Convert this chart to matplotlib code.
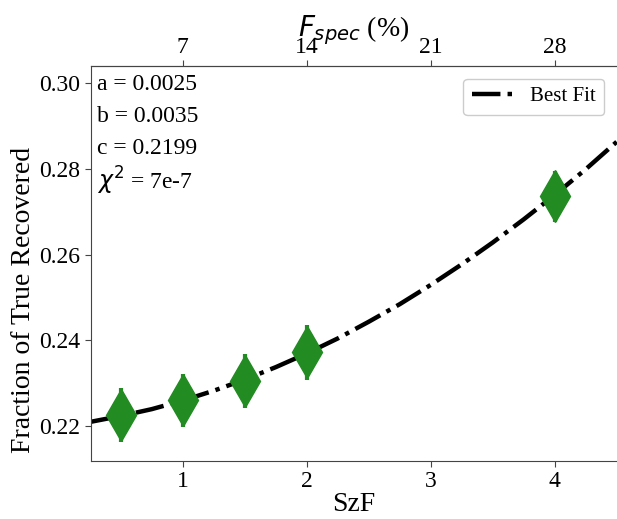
import matplotlib
matplotlib.use('Agg')
import matplotlib.pyplot as plt

# Serif text, DejaVu Sans for math
plt.rcParams['font.family'] = 'serif'
plt.rcParams['font.serif'] = ['Liberation Serif', 'DejaVu Serif']
plt.rcParams['mathtext.fontset'] = 'dejavusans'

# Measured points
szf = [0.5, 1.0, 1.5, 2.0, 4.0]
frac_true = [0.2225, 0.2260, 0.2305, 0.2372, 0.2736]
frac_err = [0.0063, 0.0062, 0.0063, 0.0064, 0.0060]

# Best-fit curve
fit_x = [0.25, 0.5, 0.75, 1.0, 1.25, 1.5, 1.75, 2.0, 2.25, 2.5, 2.75,
         3.0, 3.25, 3.5, 3.75, 4.0, 4.25, 4.5]
fit_y = [0.2209, 0.2223, 0.2239, 0.2259, 0.2282, 0.2308, 0.2337, 0.2369,
         0.2404, 0.2443, 0.2484, 0.2529, 0.2577, 0.2628, 0.2682, 0.2739,
         0.2799, 0.2863]

fit_text = ['a = 0.0025', 'b = 0.0035', 'c = 0.2199', r'$\chi^2$ = 7e-7']

fig = plt.figure(figsize=(6.17, 5.19), dpi=100)
ax = fig.add_axes([0.1475, 0.1118, 0.852, 0.761])

ax.plot(fit_x, fit_y, color='black', linestyle='-.', linewidth=3.2, label='Best Fit', zorder=2)
ax.errorbar(szf, frac_true, yerr=frac_err, fmt='d', color='forestgreen',
            markersize=26, elinewidth=3, capsize=0, zorder=3)

ax.set_xlim(0.26, 4.5)
ax.set_ylim(0.2118, 0.304)
ax.set_xticks([1, 2, 3, 4])
ax.set_yticks([0.22, 0.24, 0.26, 0.28, 0.30])
ax.set_yticklabels(['0.22', '0.24', '0.26', '0.28', '0.30'])
ax.tick_params(labelsize=17, length=4, color='#444444')
ax.set_xlabel('SzF', fontsize=20, labelpad=0)
ax.set_ylabel('Fraction of True Recovered', fontsize=20)
ax.yaxis.set_label_coords(-0.104, 0.408)
for s in ax.spines.values():
    s.set_color('#444444')
ax.spines['right'].set_visible(False)

for i, t in enumerate(fit_text):
    ax.text(0.011, 0.952 - i * 0.081, t, transform=ax.transAxes,
            fontsize=17, va='center', ha='left')

secax = ax.secondary_xaxis('top', functions=(lambda x: x * 7, lambda x: x / 7))
secax.set_xticks([7, 14, 21, 28])
secax.tick_params(labelsize=17, length=4, color='#444444', pad=2)
secax.spines['top'].set_color('#444444')
secax.set_xlabel(r'$F_{spec}$ (%)', fontsize=20, labelpad=0)

ax.legend(loc='upper right', fontsize=15, handlelength=2.0, framealpha=1,
          borderaxespad=0.6)

fig.savefig('out.png', dpi=100)
